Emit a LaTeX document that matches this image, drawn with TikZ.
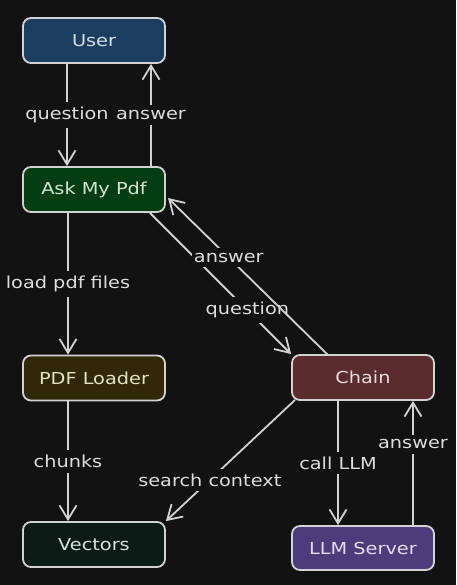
\documentclass[tikz,border=0pt]{standalone}
\usepackage{fontspec}
\setmainfont{DejaVu Sans}[FakeStretch=1.17]
\usetikzlibrary{arrows.meta}
\definecolor{bg}{HTML}{121212}
\definecolor{strokec}{HTML}{D2D2D2}
\definecolor{userfill}{HTML}{1B3E60}
\definecolor{askfill}{HTML}{033D12}
\definecolor{loadfill}{HTML}{302806}
\definecolor{vecfill}{HTML}{0B1C16}
\definecolor{chainfill}{HTML}{5A2C2D}
\definecolor{llmfill}{HTML}{4E3B7A}
\definecolor{usertxt}{HTML}{D6DEE8}
\definecolor{asktxt}{HTML}{D4E4D0}
\definecolor{loadtxt}{HTML}{E8E2C2}
\definecolor{vectxt}{HTML}{D6E2DC}
\definecolor{chaintxt}{HTML}{ECDCDC}
\definecolor{llmtxt}{HTML}{E2DCEE}
\definecolor{labtxt}{HTML}{DDDDDD}
\tikzset{
  box/.style={draw=strokec, line width=1.8pt, rounded corners=8pt,
    minimum width=142pt, minimum height=45pt, inner sep=0pt,
    font=\fontsize{16.5}{19}\selectfont},
  arr/.style={draw=strokec, line width=1.8pt,
    -{Straight Barb[length=14pt,width=17pt,line width=1.8pt]}},
  lab/.style={fill=bg, text=labtxt, inner xsep=2pt, inner ysep=5pt,
    font=\fontsize{16.5}{19}\selectfont}
}
\begin{document}
\begin{tikzpicture}[x=1pt,y=-1pt]
\useasboundingbox[fill=bg] (0,0) rectangle (456,585);
\node[box, fill=userfill, text=usertxt] (user) at (94,40.5) {User};
\node[box, fill=askfill, text=asktxt] (ask) at (94,189.5) {Ask My Pdf};
\node[box, fill=loadfill, text=loadtxt] (load) at (94,378) {PDF Loader};
\node[box, fill=vecfill, text=vectxt] (vec) at (94,544.5) {Vectors};
\node[box, fill=chainfill, text=chaintxt] (chain) at (363,377.5) {Chain};
\node[box, fill=llmfill, text=llmtxt, minimum height=44pt] (llm) at (363,548) {LLM Server};
% x guides
\coordinate (xa) at (67,0);
\coordinate (xb) at (151,0);
\coordinate (xc) at (68,0);
\coordinate (xd) at (338,0);
\coordinate (xe) at (413,0);
\coordinate (d1s) at (150,213);
\coordinate (d2s) at (328,355);
\coordinate (d2e) at (168,198);
\coordinate (d3s) at (295,400);
% connectors
\draw[arr] (user.south -| xa) -- node[lab]{question} (ask.north -| xa);
\draw[arr] (ask.north -| xb) -- node[lab]{answer} (user.south -| xb);
\draw[arr] (ask.south -| xc) -- node[lab]{load pdf files} (load.north -| xc);
\draw[arr] (load.south -| xc) -- node[lab]{chunks} (vec.north -| xc);
\draw[arr] (d1s) -- node[lab, pos=0.69]{question} (chain.north west);
\draw[arr] (d2s) -- node[lab, pos=0.62]{answer} (d2e);
\draw[arr] (d3s) -- node[lab, pos=0.66]{search context} (vec.north east);
\draw[arr] (chain.south -| xd) -- node[lab]{call LLM} (llm.north -| xd);
\draw[arr] (llm.north -| xe) -- node[lab, pos=0.65]{answer} (chain.south -| xe);
\end{tikzpicture}
\end{document}
